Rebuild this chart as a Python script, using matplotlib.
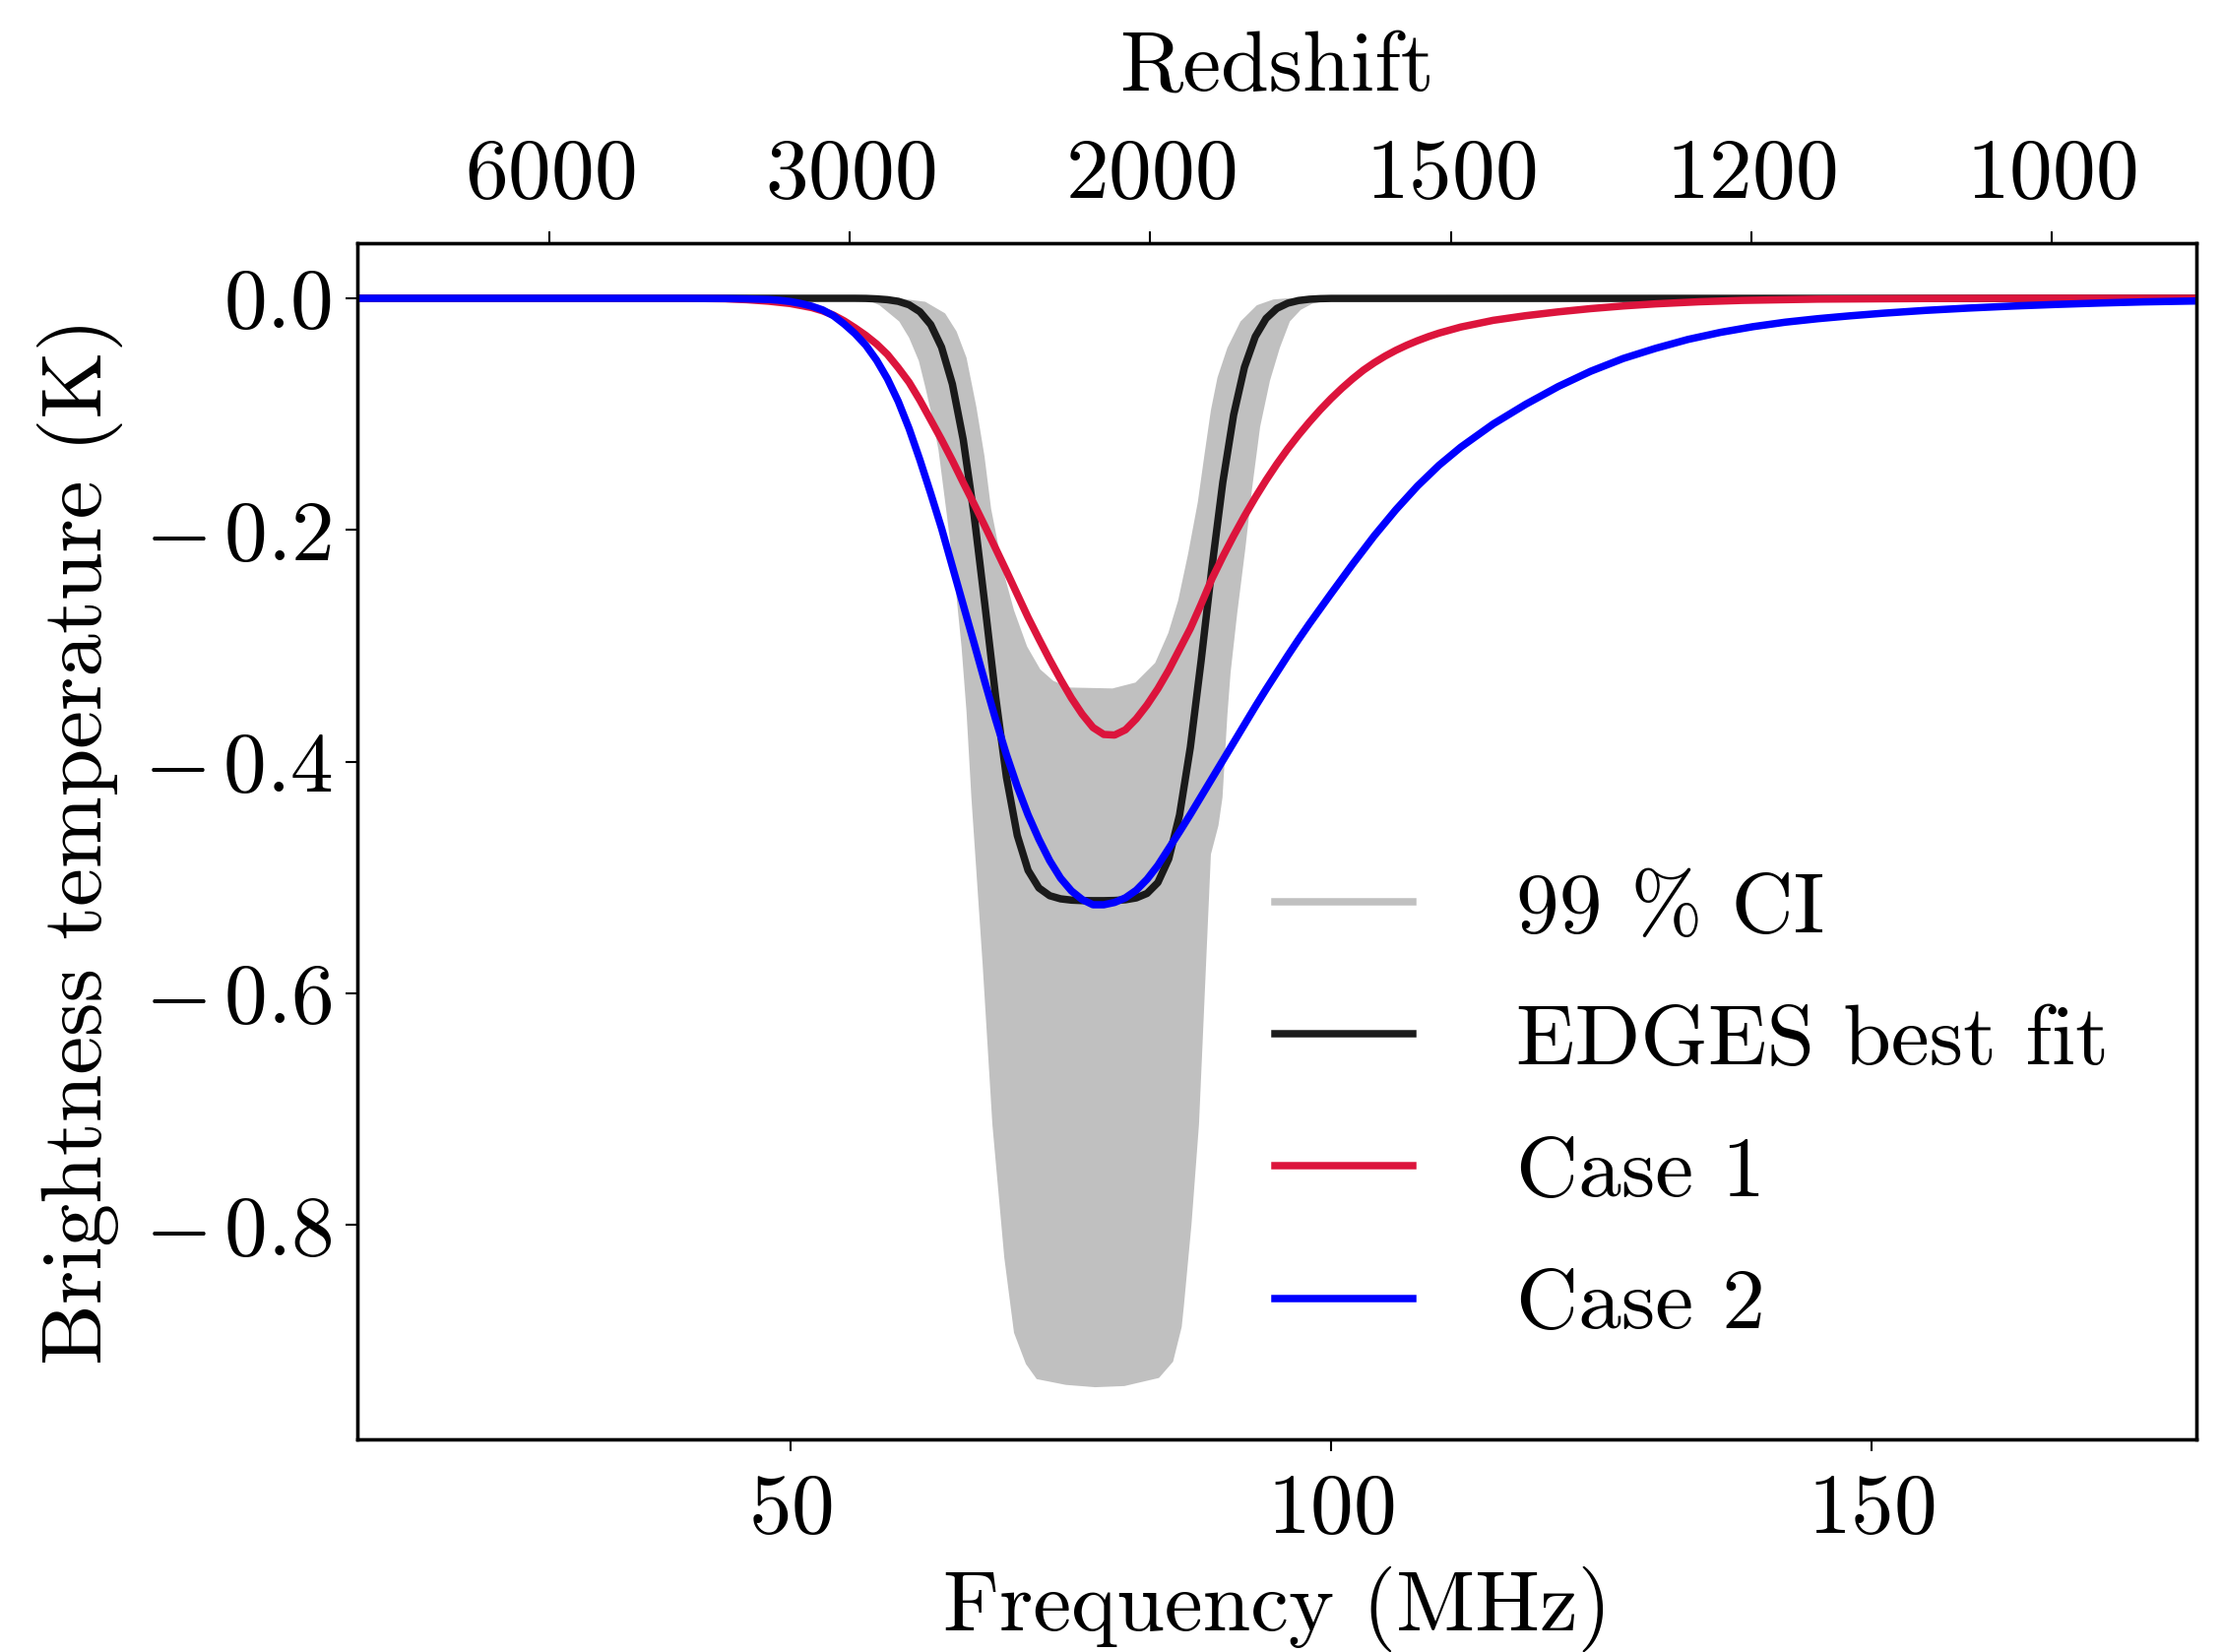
import matplotlib
matplotlib.use('Agg')
import matplotlib.pyplot as plt
from matplotlib.lines import Line2D

plt.rcParams.update({
    'mathtext.fontset': 'cm',
    'font.family': ['cmr10', 'DejaVu Serif'],
    'axes.unicode_minus': False,
    'axes.formatter.use_mathtext': True,
    'font.size': 21,
})

# ---------------- data ----------------
# EDGES best fit
edges_freq = [10, 56, 57, 58, 59, 60, 61, 62, 63, 64, 65, 66, 67, 68, 69, 70, 71, 72, 73,
              74, 75, 76, 77, 78, 79, 80, 81, 82, 83, 84, 85, 86, 87, 88, 89, 90, 91,
              92, 93, 94, 95, 96, 97, 98, 99, 100, 180]
edges_temp = [0.0, 0.0, -0.0001, -0.0005, -0.0012, -0.0026, -0.0056, -0.0116, -0.0227,
              -0.0422, -0.0740, -0.1218, -0.1865, -0.2640, -0.3439, -0.4134, -0.4636,
              -0.4938, -0.5090, -0.5157, -0.5184, -0.5195, -0.5199, -0.5200, -0.5200,
              -0.5198, -0.5192, -0.5176, -0.5137, -0.5043, -0.4839, -0.4461, -0.3876,
              -0.3125, -0.2320, -0.1588, -0.1006, -0.0595, -0.0331, -0.0174, -0.0087,
              -0.0042, -0.0019, -0.0008, -0.0003, -0.0001, 0.0]

# Case 1
case1_freq = [10, 40, 44, 46, 48, 50, 52, 53, 54, 55, 56, 57, 58, 59, 60, 61, 62, 63, 64,
              65, 66, 67, 68, 69, 70, 71, 72, 73, 74, 75, 76, 77, 78, 79, 80, 81, 82, 83,
              84, 85, 86, 87, 88, 89, 90, 91, 92, 93, 94, 95, 96, 97, 98, 99, 100, 101,
              102, 103, 104, 105, 106, 107, 108, 109, 110, 112, 115, 118, 121, 124, 127,
              130, 134, 138, 145, 155, 165, 180]
case1_temp = [0.0, 0.0, -0.0004, -0.0012, -0.0025, -0.0045, -0.0080, -0.0108, -0.0145,
              -0.0195, -0.0255, -0.0320, -0.0395, -0.0485, -0.0600, -0.0725, -0.0880,
              -0.1050, -0.1220, -0.1400, -0.1590, -0.1775, -0.1965, -0.2160, -0.2355,
              -0.2555, -0.2755, -0.2940, -0.3120, -0.3290, -0.3450, -0.3590, -0.3705,
              -0.3765, -0.3770, -0.3725, -0.3630, -0.3510, -0.3370, -0.3210, -0.3030,
              -0.2850, -0.2640, -0.2420, -0.2230, -0.2050, -0.1880, -0.1720, -0.1570,
              -0.1430, -0.1300, -0.1180, -0.1068, -0.0963, -0.0866, -0.0777, -0.0695,
              -0.0620, -0.0556, -0.0499, -0.0449, -0.0405, -0.0366, -0.0331, -0.0300,
              -0.0248, -0.0190, -0.0150, -0.0117, -0.0089, -0.0066, -0.0048, -0.0030,
              -0.0018, -0.0007, -0.0002, 0.0, 0.0]

# Case 2
case2_freq = [10, 40, 44, 46, 48, 49, 50, 51, 52, 53, 54, 55, 56, 57, 58, 59, 60, 61, 62,
              63, 64, 65, 66, 67, 68, 69, 70, 71, 72, 73, 74, 75, 76, 77, 78, 79, 80, 81,
              82, 83, 84, 85, 86, 87, 88, 89, 90, 91, 92, 93, 94, 95, 96, 97, 98, 99, 100,
              102, 104, 106, 108, 110, 112, 115, 118, 121, 124, 127, 130, 133, 136, 139,
              142, 145, 148, 151, 155, 159, 163, 167, 171, 175, 180]
case2_temp = [0.0, 0.0, -0.0002, -0.0005, -0.0010, -0.0017, -0.0028, -0.0045, -0.0068,
              -0.0100, -0.0150, -0.0222, -0.0305, -0.0405, -0.0535, -0.0695, -0.0890,
              -0.1125, -0.1395, -0.1685, -0.1985, -0.2315, -0.2645, -0.2975, -0.3310,
              -0.3635, -0.3940, -0.4215, -0.4460, -0.4670, -0.4855, -0.5005, -0.5115,
              -0.5190, -0.5235, -0.5235, -0.5215, -0.5175, -0.5110, -0.5015, -0.4895,
              -0.4750, -0.4605, -0.4455, -0.4300, -0.4145, -0.3990, -0.3835, -0.3680,
              -0.3525, -0.3375, -0.3230, -0.3085, -0.2945, -0.2810, -0.2680, -0.2550,
              -0.2295, -0.2050, -0.1825, -0.1620, -0.1440, -0.1285, -0.1085, -0.0915,
              -0.0762, -0.0630, -0.0520, -0.0432, -0.0355, -0.0294, -0.0245, -0.0206,
              -0.0176, -0.0151, -0.0129, -0.0104, -0.0084, -0.0067, -0.0053, -0.0041,
              -0.0031, -0.0023]

# 99 % CI: upper (shallow) and lower (deep) envelope
ci_upper_freq = [56, 60, 62.5, 64.33, 65.39, 66.31, 67.22, 67.97, 68.58, 69.18, 69.79,
                 70.7, 71.91, 73.13, 74.34, 75.86, 79.8, 81.93, 83.75, 84.96, 85.87, 86.78,
                 87.69, 88.29, 88.9, 89.51, 90.42, 91.64, 93.15, 94.67, 96, 106]
ci_upper_temp = [0.0, 0.0, -0.003, -0.013, -0.0286, -0.0513, -0.0938, -0.1363, -0.1816,
                 -0.210, -0.2383, -0.2694, -0.3006, -0.3204, -0.3303, -0.336, -0.3368,
                 -0.3317, -0.3147, -0.289, -0.261, -0.2212, -0.176, -0.136, -0.0966,
                 -0.0683, -0.0428, -0.020, -0.006, -0.001, 0.0, 0.0]
ci_lower_freq = [56, 56.5, 57.3, 58.27, 60.09, 61.0, 61.9, 62.51, 63.12, 63.72, 64.49, 65.24,
                 65.85, 66.31, 66.76, 67.8, 68.7, 69.8, 70.7, 71.8, 72.8, 75.5, 78.2, 80.9,
                 84.1, 85.4, 86.2, 86.4, 87.1, 87.8, 88.45, 88.9, 89.6, 89.97, 90.42, 90.72,
                 91.33, 92.09, 92.7, 93.45, 94.36, 95.27, 96.2, 97.2, 98.3, 100, 103, 106]
ci_lower_temp = [0.0, 0.0, -0.002, -0.006, -0.020, -0.034, -0.054, -0.077, -0.102, -0.131,
                 -0.187, -0.244, -0.301, -0.357, -0.431, -0.575, -0.713, -0.828, -0.893,
                 -0.920, -0.933, -0.938, -0.940, -0.939, -0.932, -0.918, -0.888, -0.870,
                 -0.800, -0.713, -0.575, -0.480, -0.455, -0.431, -0.360, -0.323, -0.272,
                 -0.2156, -0.1646, -0.111, -0.0711, -0.0428, -0.020, -0.010, -0.0045,
                 -0.0015, 0.0, 0.0]

x_ticks = [50, 100, 150]
y_ticks = [0.0, -0.2, -0.4, -0.6, -0.8]
redshift_labels = ['6000', '3000', '2000', '1500', '1200', '1000']
redshift_tick_freq = [27.77, 55.53, 83.30, 111.07, 138.83, 166.60]


def ylab(v):
    if v < 0:
        return r'$-\,%.1f$' % abs(v)
    return r'$%.1f$' % v


# ---------------- figure ----------------
fig = plt.figure(figsize=(2258 / 300, 1678 / 300), dpi=300)
ax = fig.add_axes([363 / 2258, 1 - 1462 / 1678, (2231 - 363) / 2258, (1462 - 247) / 1678])

ax.fill(ci_upper_freq + ci_lower_freq[::-1], ci_upper_temp + ci_lower_temp[::-1],
        color='silver', lw=0, zorder=1)
ax.plot(edges_freq, edges_temp, color='#1a1a1a', lw=1.8, zorder=2)
ax.plot(case1_freq, case1_temp, color='crimson', lw=1.8, zorder=3)
ax.plot(case2_freq, case2_temp, color='blue', lw=1.8, zorder=4)

ax.set_xlim(10, 180)
ax.set_ylim(-0.985, 0.0476)
ax.set_xticks(x_ticks)
ax.set_xticklabels([r'$%d$' % v for v in x_ticks])
ax.set_yticks(y_ticks)
ax.set_yticklabels([ylab(v) for v in y_ticks])
ax.tick_params(direction='out', length=2.8, width=0.5, labelsize=21)
ax.tick_params(axis='x', pad=5.5)
ax.tick_params(axis='y', pad=3.3)
for s in ax.spines.values():
    s.set_linewidth(0.8)
ax.set_xlabel('Frequency (MHz)', fontsize=21, labelpad=4)
ax.set_ylabel('Brightness temperature (K)', fontsize=21, labelpad=5)

ax2 = ax.twiny()
ax2.set_xlim(ax.get_xlim())
ax2.set_xticks(redshift_tick_freq)
ax2.set_xticklabels([r'$%s$' % s for s in redshift_labels])
ax2.tick_params(direction='out', length=2.8, width=0.5, labelsize=21, pad=4.1)
for s in ax2.spines.values():
    s.set_linewidth(0.8)
ax2.set_xlabel('Redshift', fontsize=21, labelpad=11.8)

handles = [Line2D([], [], color='silver', lw=1.8),
           Line2D([], [], color='#1a1a1a', lw=1.8),
           Line2D([], [], color='crimson', lw=1.8),
           Line2D([], [], color='blue', lw=1.8)]
labels = ['99 % CI', 'EDGES best fit', 'Case 1', 'Case 2']
ax.legend(handles, labels, loc='center', bbox_to_anchor=(0.7257, 0.2767), frameon=False,
          fontsize=21, handlelength=1.6, handletextpad=1.2, labelspacing=0.64, borderpad=0.2)

fig.savefig('out.png', dpi=300)
